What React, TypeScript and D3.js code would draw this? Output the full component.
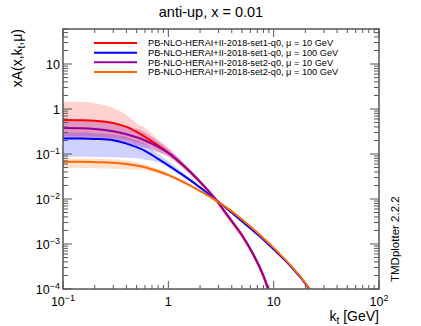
import React from "react";
import * as d3 from "d3";

const W = 421;
const H = 326;
const FONT = "'Liberation Sans', Arial, Helvetica, sans-serif";

// kt grid for mu = 10 GeV curves
const KT_MU10 = [0.1, 0.15, 0.2, 0.3, 0.4, 0.5, 0.6, 0.8, 1, 1.3, 1.7, 2.2, 2.8, 3.7, 5, 6.5, 8, 9.5];
const set1Mu10 = [0.57, 0.565, 0.55, 0.49, 0.4, 0.31, 0.24, 0.155, 0.105, 0.063, 0.035, 0.0187, 0.0098, 0.004, 0.00152, 0.000533, 0.000189, 0.000057];
const set2Mu10 = [0.38, 0.375, 0.36, 0.32, 0.275, 0.235, 0.2, 0.145, 0.106, 0.065, 0.036, 0.0192, 0.0101, 0.0042, 0.0016, 0.00056, 0.0002, 0.00006];

// kt grid for mu = 100 GeV curves
const KT_MU100 = [0.1, 0.15, 0.2, 0.3, 0.4, 0.5, 0.6, 0.8, 1, 1.3, 1.7, 2.2, 2.8, 3.7, 5, 7.5, 10, 14, 18, 22, 25];
const set1Mu100 = [0.22, 0.22, 0.216, 0.203, 0.17, 0.142, 0.118, 0.078, 0.056, 0.037, 0.024, 0.0152, 0.0098, 0.0058, 0.0032, 0.00143, 0.00076, 0.00035, 0.000178, 0.0000965, 0.000065];
const set2Mu100 = [0.067, 0.067, 0.066, 0.064, 0.06, 0.0555, 0.051, 0.0415, 0.034, 0.0258, 0.0187, 0.0134, 0.0094, 0.0061, 0.00349, 0.00155, 0.00082, 0.000365, 0.000185, 0.000101, 0.000067];

// uncertainty bands
const KT_BAND = [0.1, 0.15, 0.2, 0.3, 0.4, 0.5, 0.6, 0.8, 1, 1.3, 1.7, 2.2, 2.8, 3.7];
const set1Mu10Hi = [1.45, 1.43, 1.35, 1.05, 0.74, 0.48, 0.38, 0.21, 0.14, 0.075, 0.04, 0.0205, 0.0106, 0.0043];
const set1Mu10Lo = [0.25, 0.25, 0.245, 0.23, 0.21, 0.18, 0.16, 0.115, 0.088, 0.055, 0.031, 0.017, 0.0092, 0.0037];
const set2Mu10Hi = [0.58, 0.57, 0.55, 0.5, 0.42, 0.36, 0.3, 0.19, 0.13, 0.075, 0.039, 0.02, 0.0106, 0.0044];
const set2Mu10Lo = [0.22, 0.22, 0.21, 0.19, 0.17, 0.15, 0.14, 0.11, 0.088, 0.057, 0.033, 0.018, 0.0096, 0.004];
const set1Mu100Hi = [0.3, 0.3, 0.29, 0.27, 0.24, 0.2, 0.17, 0.1, 0.07, 0.043, 0.026, 0.016, 0.0101, 0.006];
const set1Mu100Lo = [0.087, 0.087, 0.086, 0.085, 0.083, 0.08, 0.075, 0.066, 0.05, 0.034, 0.022, 0.0146, 0.0095, 0.0056];
const set2Mu100Hi = [0.08, 0.08, 0.079, 0.076, 0.072, 0.066, 0.06, 0.047, 0.038, 0.028, 0.0195, 0.014, 0.0097, 0.0063];
const set2Mu100Lo = [0.048, 0.048, 0.048, 0.047, 0.046, 0.045, 0.043, 0.037, 0.031, 0.024, 0.018, 0.013, 0.0091, 0.0059];

const legendLabels = [
  "PB-NLO-HERAI+II-2018-set1-q0, \u03bc = 10 GeV",
  "PB-NLO-HERAI+II-2018-set1-q0, \u03bc = 100 GeV",
  "PB-NLO-HERAI+II-2018-set2-q0, \u03bc = 10 GeV",
  "PB-NLO-HERAI+II-2018-set2-q0, \u03bc = 100 GeV",
];
const lineColors = ["#ff0000", "#0000ff", "#990099", "#ff6600"];
const bandColors = ["rgba(255,0,0,0.18)", "rgba(0,0,255,0.18)", "rgba(150,0,150,0.28)", "rgba(255,110,0,0.2)"];

const xTickExps = [-1, 0, 1, 2];
const yTickExps = [-4, -3, -2, -1, 0, 1];

const x0 = 63, x1 = 379, y0 = 289, y1 = 29;

function expLabel(e: number) {
  if (e === 0) return ["1", ""];
  if (e === 1) return ["10", ""];
  return ["10", e < 0 ? "\u2212" + -e : String(e)];
}

export default function App() {
  const x = d3.scaleLog().domain([0.1, 100]).range([x0, x1]);
  const y = d3.scaleLog().domain([1e-4, 60]).range([y0, y1]);

  const line = d3
    .line<[number, number]>()
    .x((d) => x(d[0]))
    .y((d) => y(d[1]))
    .curve(d3.curveCatmullRom.alpha(0.5));
  const area = d3
    .area<[number, number, number]>()
    .x((d) => x(d[0]))
    .y0((d) => y(d[1]))
    .y1((d) => y(d[2]))
    .curve(d3.curveMonotoneX);

  const bands = [
    [set1Mu10Lo, set1Mu10Hi],
    [set1Mu100Lo, set1Mu100Hi],
    [set2Mu10Lo, set2Mu10Hi],
    [set2Mu100Lo, set2Mu100Hi],
  ].map(([lo, hi]) => KT_BAND.map((k, i) => [k, lo[i], hi[i]] as [number, number, number]));

  const curves = [
    KT_MU10.map((k, i) => [k, set1Mu10[i]] as [number, number]),
    KT_MU100.map((k, i) => [k, set1Mu100[i]] as [number, number]),
    KT_MU10.map((k, i) => [k, set2Mu10[i]] as [number, number]),
    KT_MU100.map((k, i) => [k, set2Mu100[i]] as [number, number]),
  ];

  const xMinor: number[] = [];
  for (let e = -1; e < 2; e++) for (let m = 2; m <= 9; m++) xMinor.push(m * Math.pow(10, e));
  const yMinor: number[] = [];
  for (let e = -4; e < 2; e++)
    for (let m = 2; m <= 9; m++) {
      const v = m * Math.pow(10, e);
      if (v <= 60) yMinor.push(v);
    }

  const axisCol = "#555";

  return (
    <svg width={W} height={H} style={{ position: "absolute", left: 0, top: 0, background: "#fff" }} fontFamily={FONT}>
      <defs>
        <clipPath id="frame">
          <rect x={x0} y={y1} width={x1 - x0} height={y0 - y1} />
        </clipPath>
      </defs>

      <text x={211} y={17} textAnchor="middle" fontSize={14.5}>
        anti-up, x = 0.01
      </text>

      <g clipPath="url(#frame)">
        {bands.map((b, i) => (
          <path key={"b" + i} d={area(b) || ""} fill={bandColors[i]} stroke="none" />
        ))}
        {curves.map((c, i) => (
          <path key={"c" + i} d={line(c) || ""} fill="none" stroke={lineColors[i]} strokeWidth={2} />
        ))}
      </g>

      {/* frame */}
      <rect x={x0} y={y1} width={x1 - x0} height={y0 - y1} fill="none" stroke={axisCol} strokeWidth={1.5} />

      {/* x ticks */}
      {xTickExps.map((e) => {
        const px = x(Math.pow(10, e));
        return (
          <g key={"xt" + e}>
            <line x1={px} x2={px} y1={y0} y2={y0 - 8} stroke={axisCol} />
            <line x1={px} x2={px} y1={y1} y2={y1 + 8} stroke={axisCol} />
          </g>
        );
      })}
      {xMinor.map((v, i) => (
        <g key={"xm" + i}>
          <line x1={x(v)} x2={x(v)} y1={y0} y2={y0 - 4} stroke={axisCol} />
          <line x1={x(v)} x2={x(v)} y1={y1} y2={y1 + 4} stroke={axisCol} />
        </g>
      ))}
      {/* y ticks */}
      {yTickExps.map((e) => {
        const py = y(Math.pow(10, e));
        return (
          <g key={"yt" + e}>
            <line x1={x0} x2={x0 + 9} y1={py} y2={py} stroke={axisCol} />
            <line x1={x1} x2={x1 - 9} y1={py} y2={py} stroke={axisCol} />
          </g>
        );
      })}
      {yMinor.map((v, i) => (
        <g key={"ym" + i}>
          <line x1={x0} x2={x0 + 5} y1={y(v)} y2={y(v)} stroke={axisCol} />
          <line x1={x1} x2={x1 - 5} y1={y(v)} y2={y(v)} stroke={axisCol} />
        </g>
      ))}

      {/* x tick labels */}
      {xTickExps.map((e) => {
        const [b, s] = expLabel(e);
        return (
          <text key={"xl" + e} x={x(Math.pow(10, e))} y={306} textAnchor="middle" fontSize={12.5}>
            {b}
            {s && (
              <tspan dy={-5} fontSize={9}>
                {s}
              </tspan>
            )}
          </text>
        );
      })}
      {/* y tick labels */}
      {yTickExps.map((e) => {
        const [b, s] = expLabel(e);
        return (
          <text key={"yl" + e} x={60} y={y(Math.pow(10, e)) + 4.5} textAnchor="end" fontSize={12.5}>
            {b}
            {s && (
              <tspan dy={-5} fontSize={9}>
                {s}
              </tspan>
            )}
          </text>
        );
      })}

      {/* axis titles */}
      <text x={x1} y={321} textAnchor="end" fontSize={14}>
        k<tspan dy={3} fontSize={10}>t</tspan>
        <tspan dy={-3}> [GeV]</tspan>
      </text>
      <text transform={`translate(22,${y1}) rotate(-90)`} textAnchor="end" fontSize={14}>
        xA(x,k<tspan dy={3} fontSize={10}>t</tspan>
        <tspan dy={-3}>,{"\u03bc"})</tspan>
      </text>
      <text transform={`translate(399,282) rotate(-90)`} textAnchor="start" fontSize={11.5}>
        TMDplotter 2.2.2
      </text>

      {/* legend */}
      {legendLabels.map((l, i) => {
        const ly = 43 + i * 9.65;
        return (
          <g key={"lg" + i}>
            <line x1={94} x2={137} y1={ly} y2={ly} stroke={lineColors[i]} strokeWidth={2} />
            <text x={148} y={ly + 3.3} fontSize={9.2}>
              {l}
            </text>
          </g>
        );
      })}
    </svg>
  );
}
